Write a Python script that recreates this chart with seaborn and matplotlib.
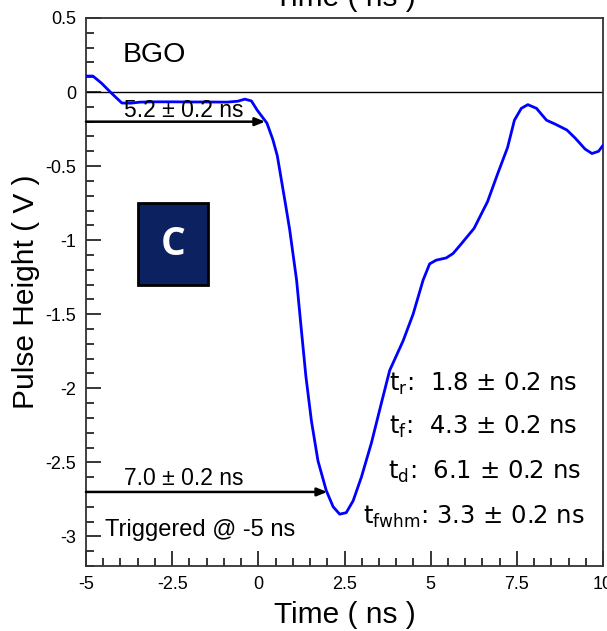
import numpy as np
import pandas as pd
import matplotlib
matplotlib.use("Agg")
import matplotlib.pyplot as plt
import seaborn as sns
from matplotlib.patches import Rectangle
from matplotlib.ticker import MultipleLocator

# ---- data ----
time_ns = [-5.0, -4.8, -4.55, -4.25, -3.96, -3.7, -3.43, -3.0, -2.5, -2.0, -1.5,
           -0.91, -0.6, -0.39, -0.2, -0.04, 0.25, 0.42, 0.55, 0.67, 0.79, 0.91,
           1.11, 1.25, 1.38, 1.54, 1.73, 1.97, 2.17, 2.36, 2.55, 2.75, 2.99,
           3.28, 3.57, 3.81, 4.2, 4.49, 4.78, 4.97, 5.16, 5.45, 5.65, 5.87,
           6.26, 6.65, 6.94, 7.23, 7.43, 7.63, 7.82, 8.07, 8.36, 8.6, 8.95,
           9.19, 9.48, 9.68, 9.87, 10.0]
pulse_v = [0.108, 0.108, 0.06, -0.01, -0.074, -0.075, -0.068, -0.066, -0.066,
           -0.067, -0.067, -0.068, -0.062, -0.048, -0.06, -0.12, -0.21, -0.32,
           -0.43, -0.595, -0.76, -0.93, -1.27, -1.61, -1.92, -2.22, -2.49,
           -2.69, -2.80, -2.85, -2.84, -2.76, -2.60, -2.37, -2.10, -1.88,
           -1.68, -1.50, -1.27, -1.16, -1.135, -1.12, -1.09, -1.03, -0.92,
           -0.74, -0.554, -0.375, -0.19, -0.11, -0.085, -0.11, -0.19, -0.215,
           -0.256, -0.31, -0.385, -0.415, -0.40, -0.36]

x_ticks = [-5, -2.5, 0, 2.5, 5, 7.5, 10]
x_tick_labels = ["-5", "-2.5", "0", "2.5", "5", "7.5", "10"]
y_ticks = [0.5, 0, -0.5, -1, -1.5, -2, -2.5, -3]
y_tick_labels = ["0.5", "0", "-0.5", "-1", "-1.5", "-2", "-2.5", "-3"]

delay_arrows_end = [0.2, 2.0]
delay_arrows_y = [-0.2, -2.7]
delay_labels = ["5.2 \u00b1 0.2 ns", "7.0 \u00b1 0.2 ns"]

timing_names = ["r", "f", "d", "fwhm"]
timing_values = ["1.8", "4.3", "6.1", "3.3"]

df = pd.DataFrame({"Time": time_ns, "Pulse": pulse_v})

sns.set_theme(style="ticks")
plt.rcParams["font.family"] = ["Liberation Sans", "DejaVu Sans"]
plt.rcParams["axes.unicode_minus"] = False
plt.rcParams["mathtext.fontset"] = "custom"
plt.rcParams["mathtext.rm"] = "DejaVu Sans"
plt.rcParams["mathtext.it"] = "DejaVu Sans:italic"
for k in ["text.color", "axes.labelcolor", "xtick.color", "ytick.color"]:
    plt.rcParams[k] = "black"

fig = plt.figure(figsize=(6.07, 6.31), dpi=100)
ax = fig.add_axes([86 / 607, 1 - 566 / 631, 517 / 607, 548 / 631])

sns.lineplot(data=df, x="Time", y="Pulse", ax=ax, color="#0000ff", lw=2.0,
             zorder=3, sort=False)
ax.axhline(0, color="black", lw=1.0, zorder=2)

ax.set_xlim(-5, 10)
ax.set_ylim(-3.2, 0.5)
ax.set_xticks(x_ticks)
ax.set_xticklabels(x_tick_labels)
ax.set_yticks(y_ticks)
ax.set_yticklabels(y_tick_labels)
ax.xaxis.set_minor_locator(MultipleLocator(0.5))
ax.yaxis.set_minor_locator(MultipleLocator(0.1))
ax.tick_params(which="major", direction="in", length=11, width=1.1,
               labelsize=13, pad=7)
ax.tick_params(which="minor", direction="in", length=5.5, width=1.1)
for s in ax.spines.values():
    s.set_color("#333333")
    s.set_linewidth(1.3)

ax.set_xlabel("Time ( ns )", fontsize=21.5, labelpad=6)
ax.set_ylabel("Pulse Height ( V )", fontsize=21.5, labelpad=4)
fig.text(0.5675, 1 - 6 / 631, "Time ( ns )", fontsize=21.5, ha="center",
         va="baseline")

ax.text(-3.95, 0.205, "BGO", fontsize=20.5, ha="left", va="baseline")

label_offsets = [0.03, 0.05]
for xe, ye, lab, off in zip(delay_arrows_end, delay_arrows_y, delay_labels,
                            label_offsets):
    ax.annotate("", xy=(xe, ye), xytext=(-5, ye),
                arrowprops=dict(arrowstyle="-|>,head_length=0.5,head_width=0.2",
                                color="black", lw=1.8, shrinkA=0, shrinkB=0))
    ax.text(-3.9, ye + off, lab, fontsize=16.5, ha="left", va="baseline")

ax.text(-4.45, -3.0, "Triggered @ -5 ns", fontsize=17, ha="left",
        va="baseline")

label_x = [3.79, 3.79, 3.77, 3.05]
label_y = [-2.02, -2.31, -2.61, -2.915]
for nm, val, lx, ly in zip(timing_names, timing_values, label_x, label_y):
    sep = ":  " if nm != "fwhm" else ": "
    ax.text(lx, ly, r"$\mathregular{t_{%s}}$" % nm + sep + val + " \u00b1 0.2 ns",
            fontsize=17.5, family="DejaVu Sans", ha="left", va="baseline")

ax.add_patch(Rectangle((0.1006, 0.512), 0.136, 0.151, transform=ax.transAxes,
                       facecolor="#0c2160", edgecolor="black", lw=2, zorder=5))
ax.text(0.1006 + 0.068, 0.5875, "C", transform=ax.transAxes, color="white",
        fontsize=28, fontweight="bold", family="Open Sans", ha="center",
        va="center", zorder=6)

fig.savefig("out.png", dpi=100)
